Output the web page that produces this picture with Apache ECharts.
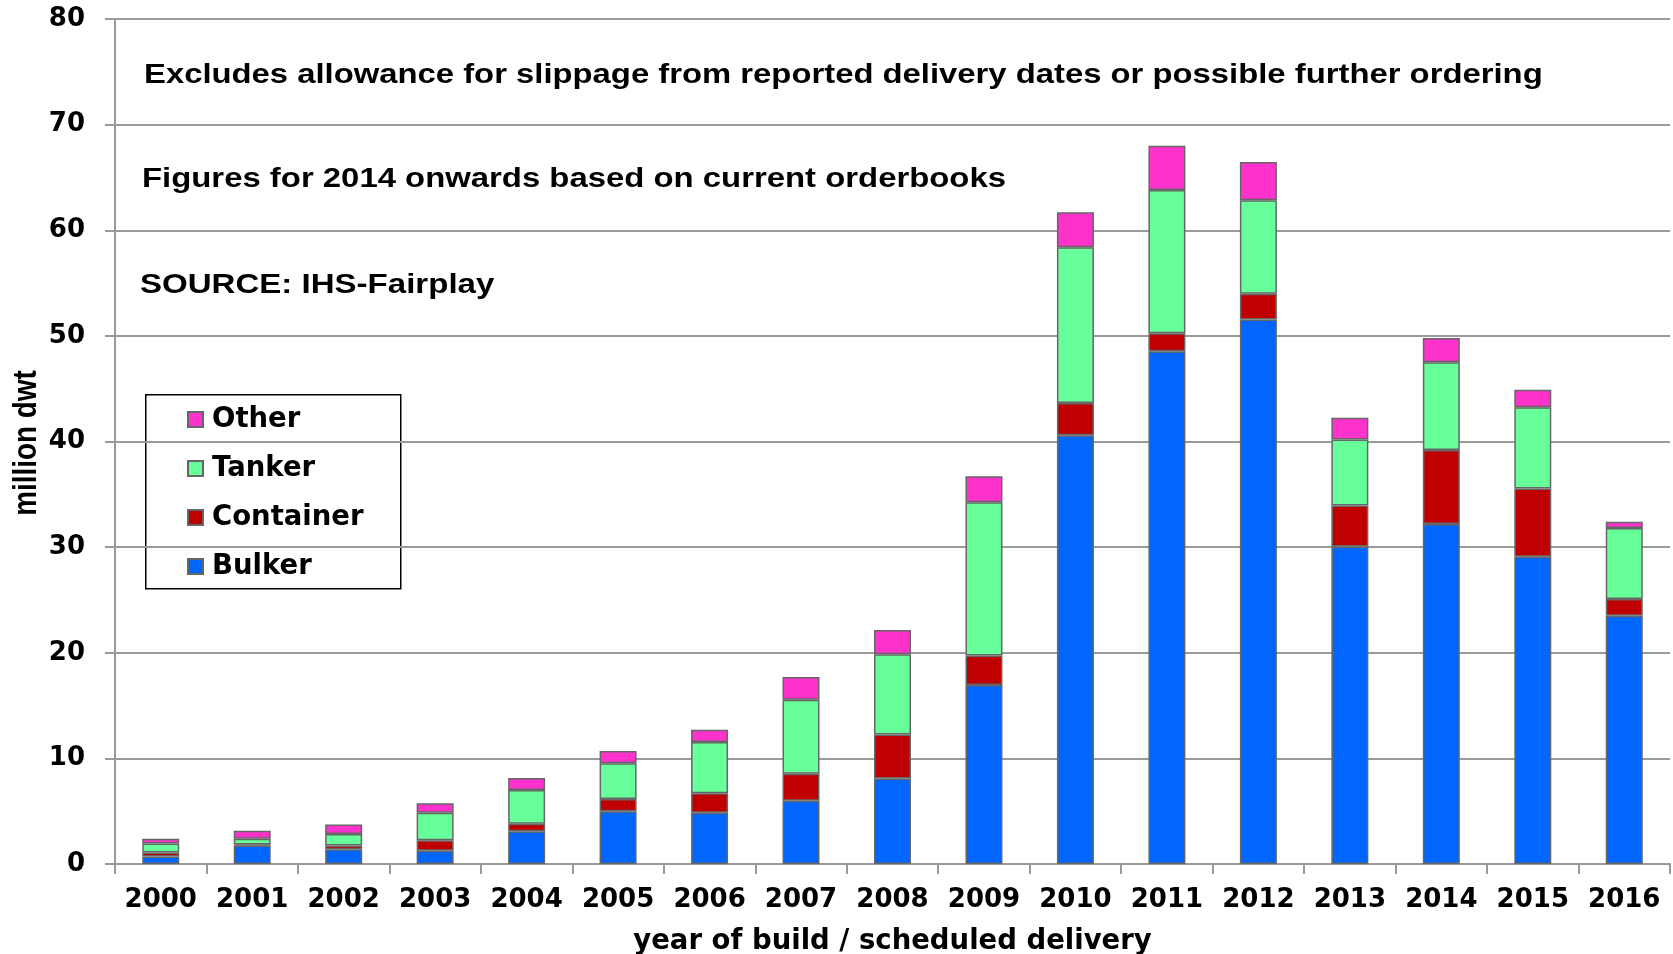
<!DOCTYPE html>
<html>
<head>
<meta charset="utf-8">
<title>Ship deliveries by type</title>
<script src="https://cdn.jsdelivr.net/npm/echarts@6/dist/echarts.min.js"></script>
<style>
  html, body { margin: 0; padding: 0; background: #fff; }
  #chart { width: 1673px; height: 954px; }
</style>
</head>
<body>
<div id="chart"></div>
<script>
// Deliveries by ship type, million dwt
const years = ['2000','2001','2002','2003','2004','2005','2006','2007','2008',
               '2009','2010','2011','2012','2013','2014','2015','2016'];
const bulker    = [0.7, 1.75, 1.4, 1.25, 3.1, 5.0, 4.85, 6.0, 8.1, 16.95, 40.6, 48.55, 51.55, 30.05, 32.2, 29.1, 23.5];
const container = [0.4, 0.1, 0.35, 1.0, 0.7, 1.15, 1.85, 2.55, 4.15, 2.8, 3.05, 1.7, 2.45, 3.9, 7.0, 6.45, 1.6];
const tanker    = [0.85, 0.55, 1.1, 2.6, 3.2, 3.4, 4.85, 7.0, 7.6, 14.5, 14.75, 13.55, 8.85, 6.25, 8.3, 7.7, 6.7];
const other     = [0.45, 0.75, 0.9, 0.9, 1.15, 1.15, 1.15, 2.15, 2.3, 2.45, 3.3, 4.2, 3.6, 2.05, 2.3, 1.65, 0.6];

const notes = [
  'Excludes allowance for slippage from reported delivery dates or possible further ordering',
  'Figures for 2014 onwards based on current orderbooks',
  'SOURCE: IHS-Fairplay'
];
const yTitle = 'million dwt';
const xTitle = 'year of build / scheduled delivery';

const FONT = 'DejaVu Sans';
const NOTE_FONT = 'bold 28px "Liberation Sans", Arial, sans-serif';
const gray = '#9a9a9a';

function barSeries(name, data, color) {
  return {
    name: name,
    type: 'bar',
    stack: 'total',
    data: data,
    barWidth: 37,
    itemStyle: { color: color, borderColor: '#666666', borderWidth: 1.5 }
  };
}

function note(text, x, y, sx) {
  return {
    type: 'text', x: x, y: y, scaleX: sx, z: 10,
    style: { text: text, font: NOTE_FONT, fill: '#000', align: 'left', verticalAlign: 'middle' }
  };
}

const chart = echarts.init(document.getElementById('chart'));
chart.setOption({
  animation: false,
  backgroundColor: '#ffffff',
  grid: { left: 115, right: 3, top: 19, bottom: 90, outerBoundsMode: 'none', containLabel: false },
  legend: {
    orient: 'vertical',
    left: 187,
    top: 404,
    data: ['Other', 'Tanker', 'Container', 'Bulker'],
    icon: 'rect',
    itemWidth: 15,
    itemHeight: 15,
    itemGap: 18,
    padding: 0,
    textStyle: { fontFamily: FONT, fontWeight: 'bold', fontSize: 27.5, color: '#000', lineHeight: 31, padding: [0, 0, 0, 4] }
  },
  xAxis: {
    type: 'category',
    data: years,
    boundaryGap: true,
    axisLine: { lineStyle: { color: gray, width: 2 } },
    axisTick: { show: true, interval: 0, length: 10, lineStyle: { color: gray, width: 2 } },
    axisLabel: { interval: 0, hideOverlap: false, fontFamily: FONT, fontWeight: 'bold', fontSize: 26, color: '#000', margin: 23 },
    name: xTitle,
    nameLocation: 'middle',
    nameGap: 64,
    nameTextStyle: { fontFamily: FONT, fontWeight: 'bold', fontSize: 27.5, color: '#000' }
  },
  yAxis: {
    type: 'value',
    min: 0,
    max: 80,
    interval: 10,
    axisLine: { show: true, lineStyle: { color: gray, width: 2 } },
    axisTick: { show: true, length: 10, lineStyle: { color: gray, width: 2 } },
    splitLine: { show: true, lineStyle: { color: gray, width: 2 } },
    axisLabel: { fontFamily: FONT, fontWeight: 'bold', fontSize: 26, color: '#000', margin: 30 }
  },
  graphic: [
    { type: 'rect', left: 145, top: 394, z: 0,
      shape: { width: 255, height: 194 },
      style: { fill: '#fff', stroke: '#000', lineWidth: 1.5 } },
    note(notes[0], 144, 75, 1.172),
    note(notes[1], 142, 179, 1.174),
    note(notes[2], 140, 285, 1.18),
    { type: 'text', x: 27, y: 443, rotation: Math.PI / 2, scaleX: 0.82, z: 10,
      style: { text: yTitle, font: 'bold 34px "Liberation Sans", Arial, sans-serif', fill: '#000',
               align: 'center', verticalAlign: 'middle' } }
  ],
  series: [
    barSeries('Bulker', bulker, '#0066ff'),
    barSeries('Container', container, '#c00000'),
    barSeries('Tanker', tanker, '#66ff99'),
    barSeries('Other', other, '#ff33cc')
  ]
});
</script>
</body>
</html>
